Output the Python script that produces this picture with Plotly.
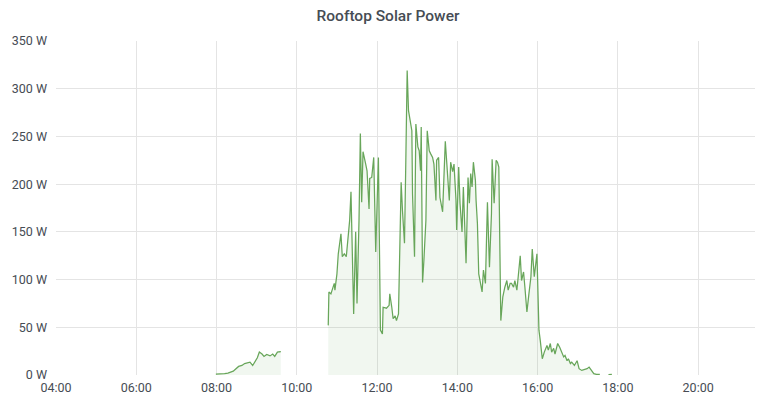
import plotly.graph_objects as go

DAY = "2024-06-01 "

# Morning segment
morning_times = ["07:59", "08:05", "08:12", "08:17", "08:25", "08:33", "08:38", "08:42", "08:45",
                 "08:50", "08:54", "08:58", "09:01", "09:04", "09:08", "09:11", "09:15", "09:20",
                 "09:24", "09:27", "09:31", "09:35", "09:36"]
morning_watts = [1, 1, 1.5, 2, 4, 9, 10, 12, 12.5,
                 13.5, 10, 14, 18, 24, 22, 19.5, 21.5, 20,
                 22, 19.5, 24, 24.5, 24]

# Main segment
main_times = ["10:47", "10:48", "10:51", "10:53", "10:56", "10:57", "11:00", "11:02", "11:06", "11:08",
              "11:11", "11:14", "11:16", "11:19", "11:21", "11:25", "11:28", "11:30", "11:33", "11:35",
              "11:37", "11:39", "11:43", "11:45", "11:48", "11:49", "11:52", "11:55", "11:58", "12:02",
              "12:05", "12:08", "12:09", "12:14", "12:18", "12:19", "12:22", "12:24", "12:27", "12:29",
              "12:32", "12:34", "12:36", "12:38", "12:41", "12:43", "12:45", "12:47", "12:49", "12:52",
              "12:53", "12:56", "12:58", "13:01", "13:03", "13:05", "13:06", "13:08", "13:10", "13:13",
              "13:15", "13:18", "13:20", "13:23", "13:25", "13:28", "13:29", "13:32", "13:34", "13:38",
              "13:42", "13:44", "13:48", "13:50", "13:53", "13:55", "13:58", "13:59", "14:02", "14:04",
              "14:07", "14:09", "14:13", "14:16", "14:18", "14:20", "14:22", "14:24", "14:27", "14:28",
              "14:30", "14:32", "14:34", "14:37", "14:39", "14:42", "14:45", "14:48", "14:51", "14:52",
              "14:55", "14:58", "15:00", "15:02", "15:05", "15:08", "15:11", "15:14", "15:16", "15:19",
              "15:21", "15:24", "15:26", "15:29", "15:31", "15:34", "15:36", "15:39", "15:41", "15:44",
              "15:47", "15:50", "15:52", "15:55", "15:59", "16:00", "16:02", "16:04", "16:07", "16:10",
              "16:14", "16:16", "16:19", "16:21", "16:24", "16:26", "16:30", "16:33", "16:36", "16:39",
              "16:41", "16:44", "16:46", "16:49", "16:51", "16:55", "16:59", "17:02", "17:06", "17:09",
              "17:14", "17:17", "17:21", "17:24", "17:28", "17:33"]
main_watts = [52, 87, 85, 89, 96, 89, 106, 127, 148, 124,
              127, 124, 138, 162, 192, 64, 150, 75, 162, 253,
              181, 234, 221, 214, 174, 206, 207, 228, 129, 228,
              47, 43, 71, 70, 73, 85, 71, 59, 62, 57,
              64, 120, 202, 172, 138, 225, 319, 277, 267, 256,
              190, 124, 263, 239, 235, 214, 260, 97, 120, 162,
              256, 235, 232, 228, 221, 183, 225, 228, 186, 171,
              245, 221, 183, 223, 213, 221, 183, 152, 218, 180,
              150, 197, 117, 207, 180, 211, 197, 223, 204, 183,
              159, 106, 97, 87, 110, 96, 181, 113, 169, 226,
              180, 225, 223, 218, 57, 82, 92, 99, 89, 96,
              96, 92, 99, 89, 103, 125, 99, 108, 92, 66,
              85, 103, 132, 103, 127, 103, 47, 36, 17, 24,
              31, 26, 33, 24, 28, 22, 33, 29, 24, 19,
              20.5, 15, 17, 12, 13.5, 10, 15, 6.6, 4.8, 5.6,
              6.6, 8.3, 4.8, 1.4, 0.6, 0.6]

# Evening segment
evening_times = ["17:46", "17:51"]
evening_watts = [0.3, 0.6]

y_ticks = [0, 50, 100, 150, 200, 250, 300, 350]
y_tick_labels = [f"{v} W" for v in y_ticks]

LINE = "#68a65a"
FILL = "rgba(104,166,90,0.09)"

fig = go.Figure()
for times, watts in [(morning_times, morning_watts), (main_times, main_watts), (evening_times, evening_watts)]:
    fig.add_trace(go.Scatter(
        x=[DAY + t for t in times], y=watts, mode="lines",
        line=dict(color=LINE, width=1.25), fill="tozeroy", fillcolor=FILL,
        showlegend=False, hoverinfo="skip"))

# page body has an 8px default margin, so the figure is sized/offset to fill the 768x409 window
fig.update_layout(
    width=760, height=401,
    margin=dict(l=48, r=13, t=33, b=34, autoexpand=False),
    paper_bgcolor="white", plot_bgcolor="white",
    font=dict(family="Roboto, Inter, sans-serif", color="#464c54", size=12),
    title=dict(text="Rooftop Solar Power", x=0.5, xanchor="center", y=0.982, yanchor="middle",
               font=dict(size=15.5, color="#464c54", family="Roboto, sans-serif", weight=500)),
    showlegend=False,
)
fig.update_xaxes(
    type="date", range=[DAY + "04:00", DAY + "21:25"], automargin=False,
    tickformat="%H:%M", dtick=2 * 3600 * 1000, tick0=DAY + "04:00",
    showgrid=True, gridcolor="#e4e4e4", gridwidth=1, zeroline=False,
    showline=False, ticks="", ticklabelstandoff=3,
    tickfont=dict(size=12.5, color="#464c54"),
)
fig.update_yaxes(
    range=[0, 350], tickvals=y_ticks, ticktext=y_tick_labels, automargin=False,
    showgrid=True, gridcolor="#e4e4e4", gridwidth=1, zeroline=False,
    showline=False, ticks="", ticklabelstandoff=8,
    tickfont=dict(size=12.5, color="#464c54"),
)
fig.write_html("out.html")
